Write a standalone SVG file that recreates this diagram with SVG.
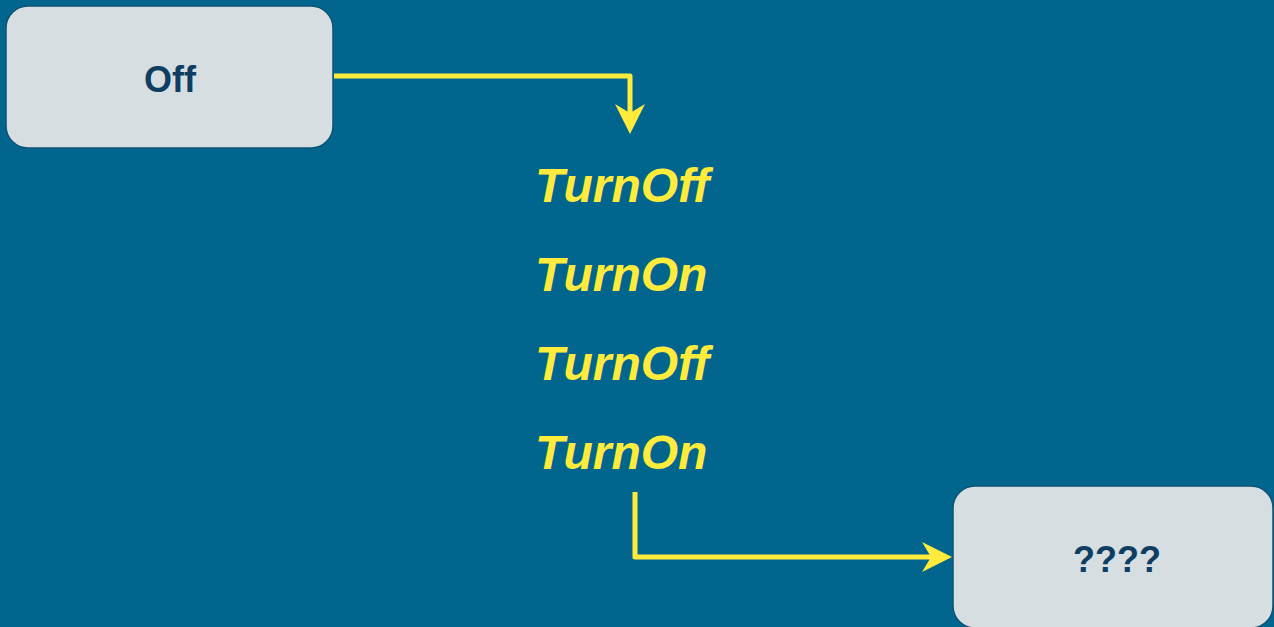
<svg xmlns="http://www.w3.org/2000/svg" width="1274" height="627" viewBox="0 0 1274 627">
<style>
.node rect{fill:#D7DEE2;stroke:#0B5478;stroke-width:1.5}
.node text{font-family:"Liberation Sans",Arial,sans-serif;font-weight:bold;font-size:36px;fill:#0E3F62;text-anchor:middle}
.lbl{font-family:"Liberation Sans",Arial,sans-serif;font-weight:bold;font-style:italic;font-size:48px;fill:#FFEB3B}
.edge{fill:none;stroke:#FFEB3B;stroke-width:5;stroke-linejoin:round}
</style>
<defs>
<marker id="arr" viewBox="0 0 30 30" refX="20" refY="15" markerWidth="30" markerHeight="30" markerUnits="userSpaceOnUse" orient="auto">
<path d="M0,0 L30,15 L0,30 L9,15 Z" fill="#FFEB3B"/>
</marker>
</defs>
<rect width="1274" height="627" fill="#02658E"/>
<g id="connectors">
<path class="edge" d="M334,76 H630 V124" marker-end="url(#arr)"/>
<path class="edge" d="M635,492 V557 H942" marker-end="url(#arr)"/>
</g>
<g id="node-off" class="node">
<rect x="6" y="6" width="327" height="142" rx="22"/>
<text x="170" y="92">Off</text>
</g>
<g id="node-unknown" class="node">
<rect x="953" y="486" width="320" height="142" rx="22"/>
<text x="1117" y="572">????</text>
</g>
<g id="labels">
<text class="lbl" x="535" y="202">TurnOff</text>
<text class="lbl" x="535" y="291">TurnOn</text>
<text class="lbl" x="535" y="380">TurnOff</text>
<text class="lbl" x="535" y="469">TurnOn</text>
</g>
</svg>
